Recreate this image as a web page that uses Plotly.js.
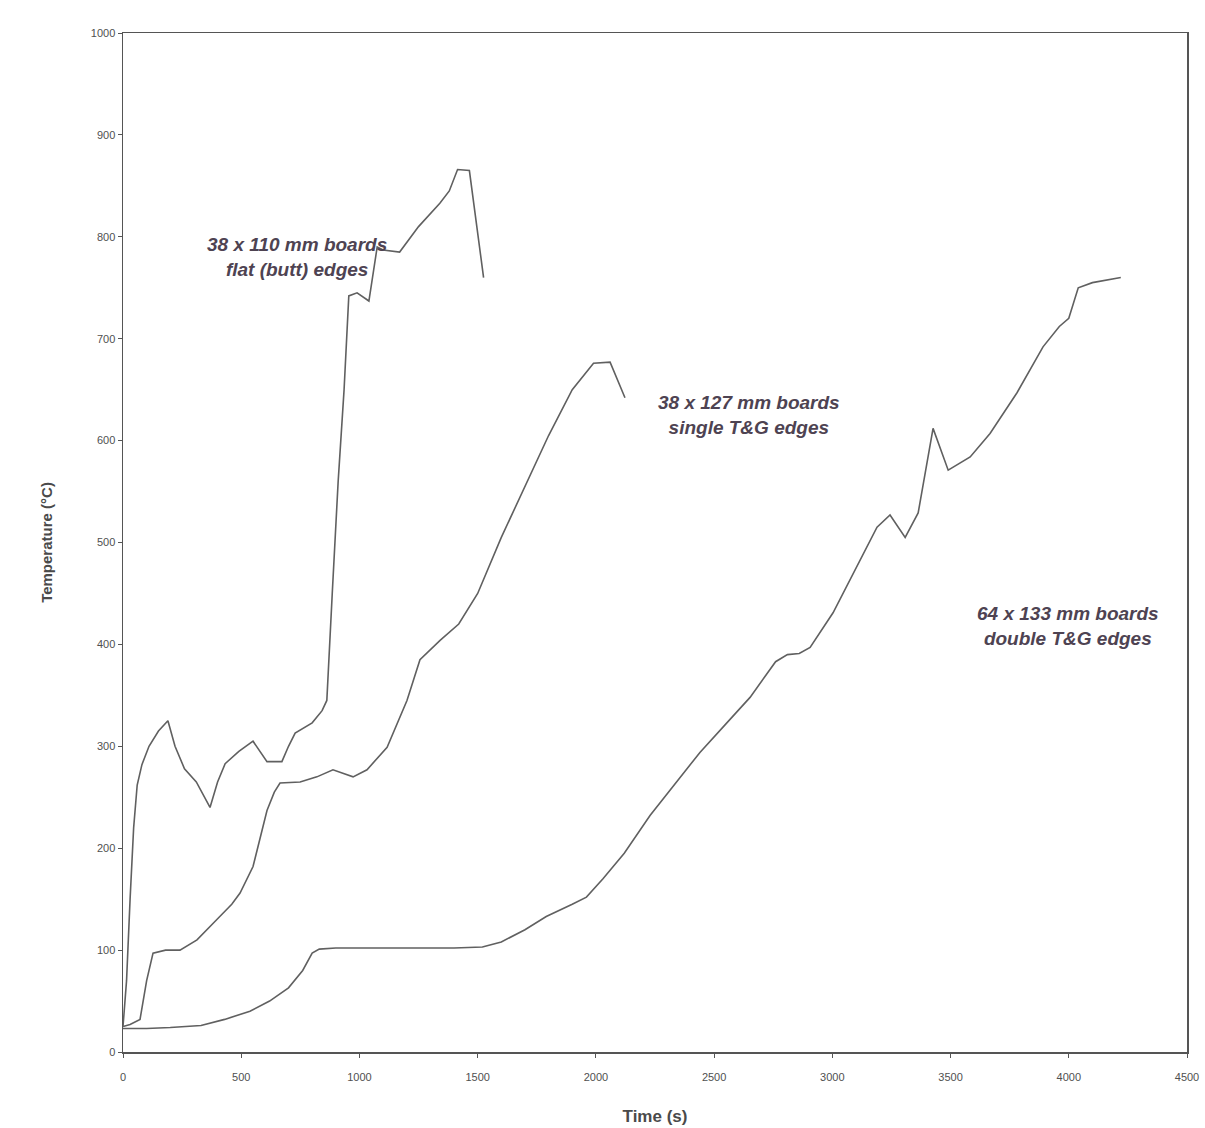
<!DOCTYPE html>
<html>
<head>
<meta charset="utf-8">
<script src="https://cdn.plot.ly/plotly-3.0.1.min.js"></script>
<style>html,body{margin:0;padding:0;background:#fff;}#chart{width:1205px;height:1128px;}</style>
</head>
<body>
<div id="chart"></div>
<script>
// 38 x 110 mm boards, flat (butt) edges
const timeFlat = [0,15,30,45,60,80,110,150,190,220,260,310,368,400,432,490,550,609,672,700,728,800,842,862,885,910,935,955,990,1040,1075,1100,1170,1250,1340,1380,1415,1465,1525];
const tempFlat = [25,70,150,220,262,282,300,315,325,300,278,265,240,265,283,295,305,285,285,300,313,323,335,345,450,560,650,742,745,737,790,787,785,810,833,845,866,865,760];

// 38 x 127 mm boards, single T&G edges
const timeSingle = [0,30,72,100,127,180,241,313,397,460,495,550,609,640,664,749,820,888,973,1032,1117,1201,1256,1341,1420,1500,1600,1700,1800,1900,1990,2060,2123];
const tempSingle = [25,27,32,70,97,100,100,110,130,145,156,182,237,255,264,265,270,277,270,277,299,345,385,404,420,450,505,555,605,650,676,677,642];

// 64 x 133 mm boards, double T&G edges
const timeDouble = [0,100,200,330,430,537,620,700,760,800,830,900,1000,1200,1400,1520,1600,1700,1790,1900,1960,2030,2120,2229,2330,2440,2550,2652,2760,2810,2860,2906,3003,3088,3189,3244,3308,3363,3426,3490,3583,3667,3781,3891,3960,4000,4040,4100,4220];
const tempDouble = [23,23,24,26,32,40,50,63,80,97,101,102,102,102,102,103,108,120,133,145,152,170,195,232,262,294,322,348,383,390,391,397,431,470,515,527,505,529,612,571,584,607,647,692,712,720,750,755,760];

const labels = [
  {text: "38 x 110 mm boards<br>flat (butt) edges", x: 736, y: 780},
  {text: "38 x 127 mm boards<br>single T&G edges", x: 2648, y: 625},
  {text: "64 x 133 mm boards<br>double T&G edges", x: 3997, y: 418}
];

const xTicks = [0,500,1000,1500,2000,2500,3000,3500,4000,4500];
const yTicks = [0,100,200,300,400,500,600,700,800,900,1000];

const lineStyle = {color: "#606060", width: 1.6};
const traces = [
  {x: timeFlat, y: tempFlat, mode: "lines", line: lineStyle, name: "38 x 110 mm flat (butt) edges"},
  {x: timeSingle, y: tempSingle, mode: "lines", line: lineStyle, name: "38 x 127 mm single T&G edges"},
  {x: timeDouble, y: tempDouble, mode: "lines", line: lineStyle, name: "64 x 133 mm double T&G edges"}
];

const layout = {
  width: 1205, height: 1128,
  paper_bgcolor: "#ffffff", plot_bgcolor: "#ffffff",
  showlegend: false,
  margin: {l: 123, r: 18, t: 33, b: 76},
  font: {family: "Arial, Liberation Sans, sans-serif", color: "#4a4a4a"},
  xaxis: {
    range: [0, 4500], tickvals: xTicks, ticktext: xTicks.map(String),
    showgrid: false, zeroline: false, showline: true, mirror: true,
    linecolor: "#555", linewidth: 1.5, ticks: "outside", ticklen: 4, tickcolor: "#555",
    ticklabelstandoff: 10,
    tickfont: {size: 11, color: "#505050"},
    title: {text: "<b>Time (s)</b>", font: {size: 17, color: "#4a4a4a"}, standoff: 28}
  },
  yaxis: {
    range: [0, 1000], tickvals: yTicks, ticktext: yTicks.map(String),
    showgrid: false, zeroline: false, showline: true, mirror: true,
    linecolor: "#555", linewidth: 1.5, ticks: "outside", ticklen: 4, tickcolor: "#555",
    tickfont: {size: 11, color: "#505050"},
    title: {text: "<b>Temperature (°C)</b>", font: {size: 15, color: "#4a4a4a"}, standoff: 34}
  },
  annotations: labels.map(a => ({
    x: a.x, y: a.y, xref: "x", yref: "y", showarrow: false,
    text: "<b><i>" + a.text + "</i></b>", align: "center",
    font: {size: 19, color: "#4e4352", family: "Arial, Liberation Sans, sans-serif"}
  }))
};

Plotly.newPlot("chart", traces, layout, {displayModeBar: false, staticPlot: true});
</script>
</body>
</html>
